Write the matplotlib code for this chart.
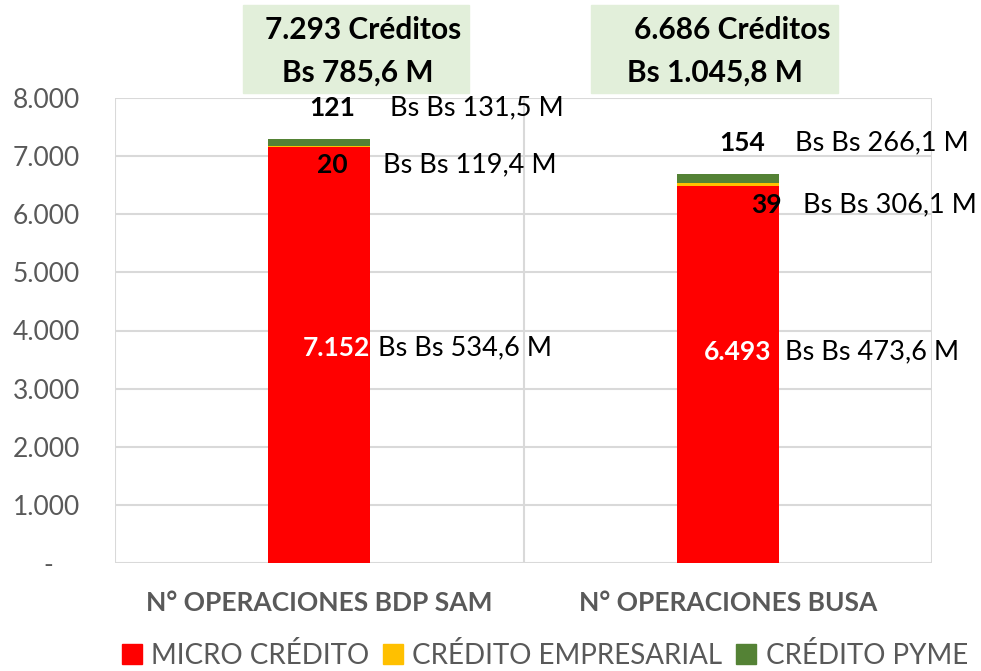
import matplotlib.pyplot as plt
from matplotlib.patches import Patch, Rectangle

categories = ["N° OPERACIONES BDP SAM", "N° OPERACIONES BUSA"]
series_names = ["MICRO CRÉDITO", "CRÉDITO EMPRESARIAL", "CRÉDITO PYME"]
micro = [7152, 6493]
empresarial = [20, 39]
pyme = [121, 154]
micro_amt = ["Bs Bs 534,6 M", "Bs Bs 473,6 M"]
empresarial_amt = ["Bs Bs 119,4 M", "Bs Bs 306,1 M"]
pyme_amt = ["Bs Bs 131,5 M", "Bs Bs 266,1 M"]
totals = ["7.293 Créditos", "6.686 Créditos"]
total_amt = ["Bs 785,6 M", "Bs 1.045,8 M"]
yticks = [0, 1000, 2000, 3000, 4000, 5000, 6000, 7000, 8000]
ytick_labels = ["-    ", "1.000", "2.000", "3.000", "4.000", "5.000", "6.000", "7.000", "8.000"]

colors = ["#FF0000", "#FFC000", "#548235"]
grid_c = "#D9D9D9"
txt_gray = "#595959"
font = "Lato"

plt.rcParams["font.family"] = [font, "DejaVu Sans"]

fig = plt.figure(figsize=(9.81, 6.71), dpi=100)
ax = fig.add_axes([115 / 981, 1 - 563 / 671, (932 - 115) / 981, (563 - 98) / 671])

x = range(len(categories))
w = 0.25
ax.bar(x, micro, w, color=colors[0], zorder=3)
ax.bar(x, empresarial, w, bottom=micro, color=colors[1], zorder=3)
bottoms = [m + e for m, e in zip(micro, empresarial)]
ax.bar(x, pyme, w, bottom=bottoms, color=colors[2], zorder=3)

ax.set_xlim(-0.5, 1.5)
ax.set_ylim(0, 8000)
for s in ax.spines.values():
    s.set_visible(False)
for t in yticks:
    ax.axhline(t, color=grid_c, lw=1.5, zorder=1)
for v in [-0.5, 0.5, 1.5]:
    ax.axvline(v, color=grid_c, lw=1.5, zorder=1)

ax.set_yticks(yticks)
ax.set_yticklabels(ytick_labels, fontsize=19, color=txt_gray)
ax.set_xticks(list(x))
ax.set_xticklabels(categories, fontsize=19, fontweight="bold", color=txt_gray)
ax.tick_params(axis="y", length=0, pad=25)
ax.tick_params(axis="x", length=0, pad=20)

# label placement (y in data units, x offsets from bar centre)
lab_y = [[3700, 6850, 7830], [3630, 6160, 7230]]
num_dx = [[0.124, 0.070, 0.087], [0.108, 0.133, 0.091]]
amt_dx = [[0.144, 0.156, 0.173], [0.140, 0.184, 0.164]]
for i in x:
    nums = [f"{micro[i]:,}".replace(",", "."), str(empresarial[i]), str(pyme[i])]
    amts = [micro_amt[i], empresarial_amt[i], pyme_amt[i]]
    for k in range(3):
        ax.text(i + num_dx[i][k], lab_y[i][k], nums[k], ha="right", va="center",
                fontsize=19, fontweight="bold", color="white" if k == 0 else "black", zorder=4)
        ax.text(i + amt_dx[i][k], lab_y[i][k], amts[k], ha="left", va="center",
                fontsize=19.5, color="black", zorder=4)

# green total boxes at the top
boxes = [(243, 469), (591, 838)]
line1_x = [265, 634]
line2_x = [282, 627]
for i, (x0, x1) in enumerate(boxes):
    fig.patches.append(Rectangle((x0 / 981, 1 - 93 / 671), (x1 - x0) / 981, 88 / 671,
                                 transform=fig.transFigure, color="#E2EFDA", zorder=0))
    fig.text(line1_x[i] / 981, 1 - 30 / 671, totals[i], ha="left", va="center",
             fontsize=21.5, fontweight="bold")
    fig.text(line2_x[i] / 981, 1 - 73 / 671, total_amt[i], ha="left", va="center",
             fontsize=21.5, fontweight="bold")

handles = [Patch(color=c) for c in colors]
leg = fig.legend(handles, series_names, loc="center", bbox_to_anchor=(545 / 981, 1 - 655 / 671),
                 ncol=3, frameon=False, fontsize=20, handlelength=0.7, handleheight=0.7,
                 handletextpad=0.35, columnspacing=0.5, borderaxespad=0)
for t in leg.get_texts():
    t.set_color(txt_gray)

plt.savefig("out.png", dpi=100)
plt.close()
